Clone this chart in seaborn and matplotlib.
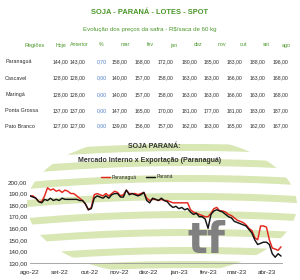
import numpy as np
import pandas as pd
import matplotlib
matplotlib.use("Agg")
import matplotlib.pyplot as plt
import seaborn as sns
from matplotlib.patches import Ellipse

# ---------------- data ----------------
regions = ["Paranaguá", "Cascavel", "Maringá", "Ponta Grossa", "Pato Branco"]
columns = ["Hoje", "Anterior", "%", "mar", "fev", "jan", "dez", "nov", "out", "set", "ago"]
row_paranagua = [144.00, 143.00, 0.70, 158.00, 168.00, 172.00, 180.00, 185.00, 183.00, 188.00, 196.00]
row_cascavel = [128.00, 128.00, 0.00, 140.00, 157.00, 158.00, 163.00, 163.00, 166.00, 163.00, 168.00]
row_maringa = [128.00, 128.00, 0.00, 140.00, 157.00, 158.00, 163.00, 163.00, 166.00, 163.00, 168.00]
row_ponta_grossa = [137.00, 137.00, 0.00, 147.00, 165.00, 170.00, 181.00, 177.00, 181.00, 183.00, 187.00]
row_pato_branco = [127.00, 127.00, 0.00, 139.00, 156.00, 157.00, 162.00, 163.00, 165.00, 162.00, 167.00]
table_rows = [row_paranagua, row_cascavel, row_maringa, row_ponta_grossa, row_pato_branco]

series_names = ["Paranaguá", "Paraná"]
paranagua = [188, 188, 186, 183, 183, 188, 195, 193, 194, 192, 193, 191, 193, 192, 190, 190,
             188, 186, 184, 181, 176, 178, 189, 190, 189, 188, 190, 188, 190, 192, 191, 188,
             189, 193, 190, 190, 190, 189, 190, 191, 186, 184, 185, 185, 184, 185, 184, 184,
             183, 182, 182, 182, 182, 182, 182, 176, 174, 173, 172, 171, 170, 170, 173, 177,
             178, 175, 175, 174, 172, 171, 169, 167, 166, 165, 163, 160, 158, 152, 150, 162,
             162, 161, 150, 143, 142, 141, 144]
parana = [188, 187, 186, 183, 182, 185, 184, 186, 184, 185, 184, 186, 185, 185, 185, 185,
          185, 184, 184, 181, 176, 177, 186, 188, 187, 186, 188, 186, 189, 190, 190, 187,
          187, 193, 189, 190, 189, 188, 189, 191, 184, 182, 186, 185, 184, 186, 184, 183,
          180, 178, 179, 177, 178, 176, 177, 174, 172, 173, 170, 170, 168, 160, 172, 175,
          176, 175, 174, 172, 170, 169, 166, 165, 164, 163, 162, 159, 156, 150, 146, 147,
          148, 148, 146, 138, 135, 138, 136]
dates = pd.date_range("2022-08-01", periods=len(parana), freq="3D")

month_ticks = pd.to_datetime(["2022-08-01", "2022-09-01", "2022-10-01", "2022-11-01", "2022-12-01",
                              "2023-01-01", "2023-02-01", "2023-03-01", "2023-04-01"])
month_labels = ["ago-22", "set-22", "out-22", "nov-22", "dez-22", "jan-23", "fev-23", "mar-23", "abr-23"]
y_ticks = [130, 140, 150, 160, 170, 180, 190, 200]

df = pd.DataFrame({
    "data": list(dates) * 2,
    "valor": paranagua + parana,
    "serie": [series_names[0]] * len(paranagua) + [series_names[1]] * len(parana),
})

# ---------------- style ----------------
sns.set_theme(style="white")
plt.rcParams["font.family"] = ["Liberation Sans", "DejaVu Sans"]

GREEN = "#4a972a"
TXT = "#2c2c2c"
BLUE = "#4a7cc4"
STRIPE = "#d8e7b4"

fig = plt.figure(figsize=(3.0, 2.8), dpi=100)
fig.patch.set_facecolor("white")

# background stripes (decorative logo)
bg = fig.add_axes([0, 0, 1, 1], zorder=0)
bg.set_xlim(0, 300)
bg.set_ylim(280, 0)
bg.axis("off")
ell = Ellipse((162, 205), 270, 140, transform=bg.transData, facecolor="none", edgecolor="none")
bg.add_patch(ell)
xs = np.linspace(0, 300, 300)
for c in [144, 159, 175, 193, 211, 229, 247, 261]:
    curve = c + 6 * ((xs - 190) / 150) ** 2
    p = bg.fill_between(xs, curve, curve + 7, color=STRIPE, lw=0)
    p.set_clip_path(ell)

def fx(x):
    return x / 300.0

def fy(y):
    return 1 - y / 280.0

# ---------------- table ----------------
fig.text(fx(150), fy(12), "SOJA - PARANÁ - LOTES - SPOT", ha="center", va="center",
         color=GREEN, fontsize=5.4, fontweight="bold")
fig.text(fx(150), fy(30), "Evolução dos preços da safra - R$/saca de 60 kg", ha="center",
         va="center", color=GREEN, fontsize=4.4)
head_x = [61, 79, 101, 125, 150, 174, 198, 222, 244, 266, 286]
num_right = [68, 85, 107, 127, 150, 173, 197, 219, 242, 265, 288]
fig.text(fx(35), fy(45), "Regiões", ha="center", va="center", color=GREEN, fontsize=4.0)
for hx, name in zip(head_x, columns):
    fig.text(fx(hx), fy(45), name, ha="center", va="center", color=GREEN, fontsize=3.8)
row_y = [62, 78, 94.5, 110.5, 126]
for ry, reg, vals in zip(row_y, regions, table_rows):
    fig.text(fx(5), fy(ry), reg, ha="left", va="center", color=TXT, fontsize=3.9)
    for j, (nx, v) in enumerate(zip(num_right, vals)):
        s = f"{v:.2f}".replace(".", ",")
        fig.text(fx(nx), fy(ry), s, ha="right", va="center",
                 color=BLUE if j == 2 else TXT, fontsize=3.7)

# ---------------- chart ----------------
fig.text(fx(154), fy(147), "SOJA PARANÁ:", ha="center", va="center", color="#333333",
         fontsize=5.0, fontweight="bold")
fig.text(fx(150), fy(161), "Mercado Interno x Exportação (Paranaguá)", ha="center", va="center",
         color="#333333", fontsize=5.0, fontweight="bold")
fig.text(fx(206), fy(241), "tf", ha="center", va="center", color="#808080",
         fontsize=30, fontweight="bold", family="DejaVu Sans", zorder=0.5)

ax = fig.add_axes([fx(30), fy(263), fx(252), (263 - 182) / 280.0], zorder=1)
ax.patch.set_alpha(0)
sns.lineplot(data=df, x="data", y="valor", hue="serie", ax=ax,
             palette={"Paranaguá": "#e4261c", "Paraná": "#151515"}, linewidth=1.05)
ax.set_ylim(130, 200)
ax.set_xlim(pd.Timestamp("2022-08-01"), pd.Timestamp("2023-04-17"))
ax.set_yticks(y_ticks)
ax.set_yticklabels([f"{v:.2f}".replace(".", ",") for v in y_ticks], fontsize=4.5, color=TXT)
ax.set_xticks(month_ticks)
ax.set_xticklabels(month_labels, fontsize=4.6, color=TXT)
ax.set_xlabel("")
ax.set_ylabel("")
for s in ["left", "top", "right"]:
    ax.spines[s].set_visible(False)
ax.spines["bottom"].set_color("#9a9a9a")
ax.spines["bottom"].set_linewidth(0.6)
ax.tick_params(axis="x", length=2.5, width=0.6, color="#9a9a9a", direction="inout", pad=4)
ax.tick_params(axis="y", length=0, pad=2)
ax.grid(False)
leg = ax.legend(loc="center", bbox_to_anchor=(fx(137), fy(177)), bbox_transform=fig.transFigure,
                ncol=2, frameon=False, fontsize=3.6, handlelength=1.8, columnspacing=2.0,
                handletextpad=0.3)

fig.savefig("out.png", dpi=100)
